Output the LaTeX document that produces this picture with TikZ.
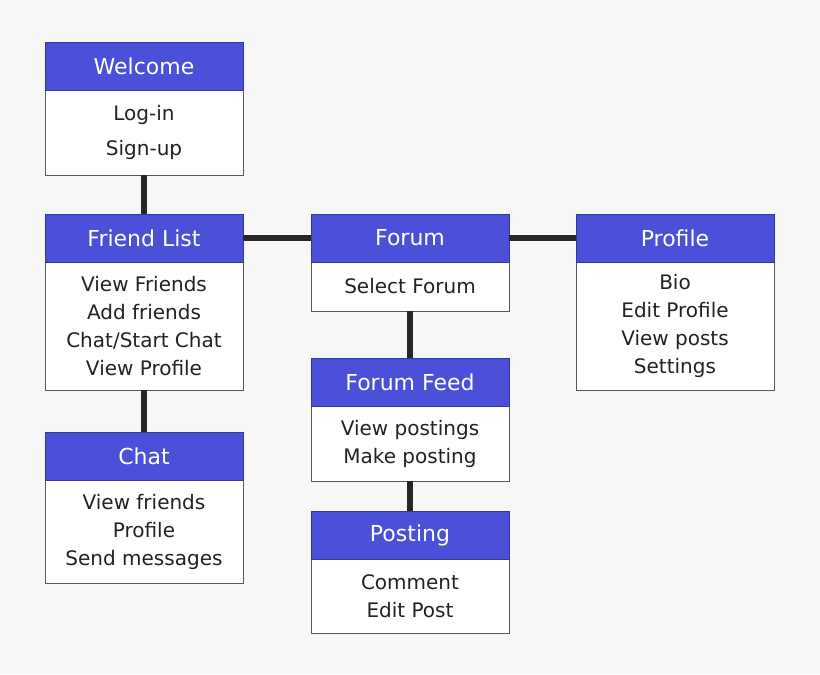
\documentclass[tikz,border=0pt]{standalone}
\usepackage{fontspec}
\setmainfont{DejaVu Sans}
\definecolor{hdr}{HTML}{4A50D8}
\definecolor{bg}{HTML}{F7F7F7}
\definecolor{txt}{HTML}{222222}
\begin{document}
\begin{tikzpicture}[x=0.75pt,y=-0.75pt,
  hd/.style={rectangle,fill=hdr,draw=hdr!70!black,line width=0.6pt,minimum width=148.5pt,minimum height=36pt,inner sep=0,text=white,font=\fontsize{16.5}{20}\selectfont},
  bd/.style={rectangle,fill=white,draw=black!65,line width=0.6pt,minimum width=148.5pt,inner sep=0,align=center,text=txt,font=\fontsize{15}{21}\selectfont},
  ln/.style={line width=4.5pt,black!85}]
\fill[bg] (0,0) rectangle (820,674);
\useasboundingbox (0,0) rectangle (820,674);
% Welcome
\node[bd,minimum height=63.75pt] (wb) at (144,132.5) {Log-in\\[5pt]Sign-up};
\node[hd] (wh) at (144,66) {Welcome};
% Friend list
\node[bd,minimum height=96pt] (fb) at (144,326) {View Friends\\Add friends\\Chat/Start Chat\\View Profile};
\node[hd] (fh) at (144,238) {Friend List};
% Forum
\node[bd,minimum height=36.75pt] (ob) at (410,286.5) {Select Forum};
\node[hd] (oh) at (410,238) {Forum};
% Profile
\node[bd,minimum height=96pt] (pb) at (675,326) {Bio\\Edit Profile\\View posts\\Settings};
\node[hd] (ph) at (675,238) {Profile};
% Chat
\node[bd,minimum height=77.25pt] (cb) at (144,531.5) {View friends\\Profile\\Send messages};
\node[hd] (ch) at (144,456) {Chat};
% Forum feed
\node[bd,minimum height=56.25pt] (eb) at (410,443.5) {View postings\\Make posting};
\node[hd] (eh) at (410,382) {Forum Feed};
% Posting
\node[bd,minimum height=55.5pt] (gb) at (410,596) {Comment\\Edit Post};
\node[hd] (gh) at (410,535) {Posting};
% connectors
\draw[ln] (wb.south) -- (fh.north);
\draw[ln] (fh.east) -- (oh.west);
\draw[ln] (oh.east) -- (ph.west);
\draw[ln] (fb.south) -- (ch.north);
\draw[ln] (ob.south) -- (eh.north);
\draw[ln] (eb.south) -- (gh.north);
\end{tikzpicture}
\end{document}
